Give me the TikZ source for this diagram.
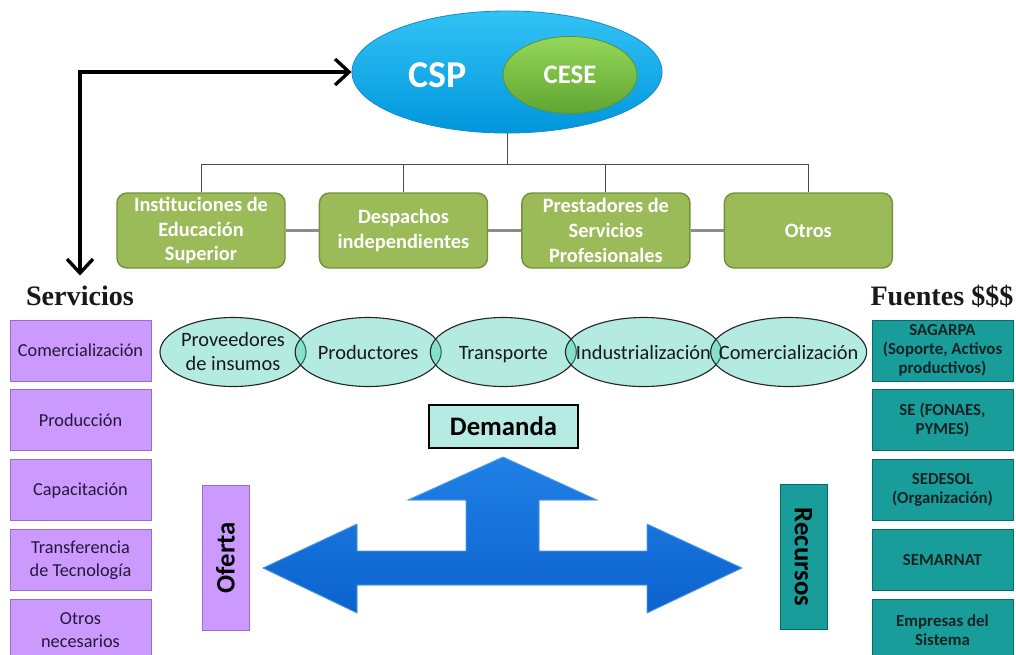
\documentclass[tikz,border=0pt]{standalone}
\usepackage{fontspec}
\setmainfont{Carlito}
\newfontfamily\headfont{Liberation Serif}
\usetikzlibrary{%
  positioning,
  shapes.geometric,
  arrows.meta
}
\definecolor{csptop}{RGB}{50,195,245}
\definecolor{cspbot}{RGB}{0,150,220}
\definecolor{cspedge}{RGB}{25,140,205}
\definecolor{cesetop}{RGB}{150,215,90}
\definecolor{cesebot}{RGB}{95,165,50}
\definecolor{ceseedge}{RGB}{90,150,50}
\definecolor{treefill}{RGB}{155,187,89}
\definecolor{treeedge}{RGB}{115,145,60}
\definecolor{chainfill}{RGB}{68,205,180}
\definecolor{demandfill}{RGB}{182,235,227}
\definecolor{servfill}{RGB}{204,153,255}
\definecolor{servedge}{RGB}{150,110,200}
\definecolor{servtext}{RGB}{35,25,55}
\definecolor{fuenfill}{RGB}{25,157,154}
\definecolor{fuenedge}{RGB}{10,105,105}
\definecolor{fuentext}{RGB}{20,35,35}
\definecolor{arrowtop}{RGB}{32,128,230}
\definecolor{arrowbot}{RGB}{12,98,205}
\tikzset{
  treebox/.style = {rectangle, rounded corners = 0.25cm, draw = treeedge,
    line width = 1pt, fill = treefill, text = white, align = center,
    font = \fontsize{14.5}{17.5}\selectfont\bfseries,
    minimum width = 4.2cm, minimum height = 1.875cm, inner sep = 1pt},
  treeline/.style = {draw = black!70, line width = 0.7pt},
  tielink/.style = {draw = black!45, line width = 1.8pt},
  servbox/.style = {rectangle, draw = servedge, line width = 0.6pt,
    fill = servfill, text = servtext, align = center,
    font = \fontsize{13}{16.5}\selectfont,
    minimum width = 3.525cm, minimum height = 1.525cm, inner sep = 1pt},
  fuenbox/.style = {servbox, draw = fuenedge, fill = fuenfill, text = fuentext,
    font = \fontsize{12}{13.5}\selectfont\bfseries},
  header/.style = {font = \headfont\fontsize{20}{24}\selectfont\bfseries,
    text = black!90},
  chaintext/.style = {font = \fontsize{14.5}{17.3}\selectfont, align = center,
    text = black!90, execute at begin node = \strut, yshift = -2pt},
  chainel/.style = {ellipse, draw = black!85, line width = 0.8pt,
    fill = chainfill, fill opacity = 0.4, minimum width = 3.65cm,
    minimum height = 1.725cm, inner sep = 0pt,
    label = {[chaintext]center:#1}},
  sidebox/.style = {rectangle, line width = 0.6pt, inner sep = 0pt,
    minimum width = 3.625cm, minimum height = 1.175cm, text = black,
    font = \fontsize{19}{22}\selectfont\bfseries},
  linkarrow/.style = {black, line width = 2.4pt,
    arrows = {Straight Barb[length=3.5mm,width=6.5mm]-Straight Barb[length=3.5mm,width=6.5mm]}}
}

\begin{document}
\begin{tikzpicture}[
    x = 0.025cm, y = -0.025cm,
    cspnode/.style = {ellipse, draw = cspedge, line width = 0.6pt,
      top color = csptop, bottom color = cspbot,
      minimum width = 7.75cm, minimum height = 3.05cm},
    cesenode/.style = {ellipse, draw = ceseedge, line width = 0.6pt,
      top color = cesetop, bottom color = cesebot, text = white,
      font = \fontsize{19}{22}\selectfont\bfseries,
      minimum width = 3.35cm, minimum height = 1.925cm},
    bigarrow/.style = {top color = arrowtop, bottom color = arrowbot,
      draw = arrowtop!75!white, line width = 0.6pt},
    demandbox/.style = {rectangle, draw = black, line width = 1pt,
      fill = demandfill, minimum width = 3.725cm, minimum height = 1.075cm,
      font = \fontsize{19}{22}\selectfont\bfseries}
    ]
  \useasboundingbox[fill = white] (0,0) rectangle (1016,654);

  % top: CSP and its members
  \node[cspnode] (csp) at (507,72) {};
  \node[cesenode] (cese) at (570,75) {CESE};
  \node[text = white, font = \fontsize{27}{30}\selectfont\bfseries] (csptxt) at (438,75) {CSP};

  \node[treebox] (inst) at (201,230.5) {Instituciones de\\Educación\\Superior};
  \node[treebox, right = 0.825cm of inst] (desp) {Despachos\\independientes};
  \node[treebox, right = 0.825cm of desp] (prest) {Prestadores de\\Servicios\\Profesionales};
  \node[treebox, right = 0.825cm of prest] (otros) {Otros};

  \draw[tielink] (inst) -- (desp);
  \draw[tielink] (desp) -- (prest);
  \draw[tielink] (prest) -- (otros);

  \draw[treeline] (csp.south) -- ++(0,31) coordinate (bus);
  \draw[treeline] (inst.north) |- (bus) -| (otros.north);
  \draw[treeline] (desp.north) -- (desp.north |- bus);
  \draw[treeline] (prest.north) -- (prest.north |- bus);

  % side columns
  \node[header] (serv) at (80,296) {Servicios};
  \node[header] (fuen) at (942,296) {Fuentes \$\$\$};

  \node[servbox] (s1) at (80.5,350.5) {Comercialización};
  \node[servbox, below = 0.2cm of s1] (s2) {Producción};
  \node[servbox, below = 0.2cm of s2] (s3) {Capacitación};
  \node[servbox, below = 0.2cm of s3] (s4) {Transferencia\\de Tecnología};
  \node[servbox, below = 0.2cm of s4] (s5) {Otros\\necesarios};

  \node[fuenbox] (f1) at (942.5,350.5) {SAGARPA\\(Soporte, Activos\\productivos)};
  \node[fuenbox, below = 0.2cm of f1] (f2) {SE (FONAES,\\PYMES)};
  \node[fuenbox, below = 0.2cm of f2] (f3) {SEDESOL\\(Organización)};
  \node[fuenbox, below = 0.2cm of f3] (f4) {SEMARNAT};
  \node[fuenbox, below = 0.2cm of f4] (f5) {Empresas del\\Sistema};

  \draw[linkarrow, shorten <= 4pt] (serv.north) |- (csp.west);

  % value chain
  \node[chainel = {Proveedores\\de insumos}] (prov) at (233,352) {};
  \node[chainel = Productores, right = -0.3cm of prov] (prod) {};
  \node[chainel = Transporte, right = -0.3cm of prod] (trans) {};
  \node[chainel = Industrialización, minimum width = 3.9cm, right = -0.3cm of trans] (indus) {};
  \node[chainel = Comercialización, minimum width = 3.9cm, right = -0.3cm of indus] (comer) {};

  % market arrow
  \node[demandbox] (dem) at (503.5,426.5) {Demanda};
  \filldraw[bigarrow] (263,568) -- (357,524) -- (357,551) -- (466,551) -- (466,500)
    -- (408,500) -- (503,457) -- (597,500) -- (539,500) -- (539,551) -- (647,551)
    -- (647,524) -- (742,568) -- (647,613) -- (647,585) -- (357,585) -- (357,613) -- cycle;
  \node[sidebox, fill = servfill, draw = servedge, rotate = 90] (oferta) at (225.5,557.5) {Oferta};
  \node[sidebox, fill = fuenfill, draw = fuenedge, rotate = -90] (recur) at (803.5,557) {Recursos};
\end{tikzpicture}
\end{document}
